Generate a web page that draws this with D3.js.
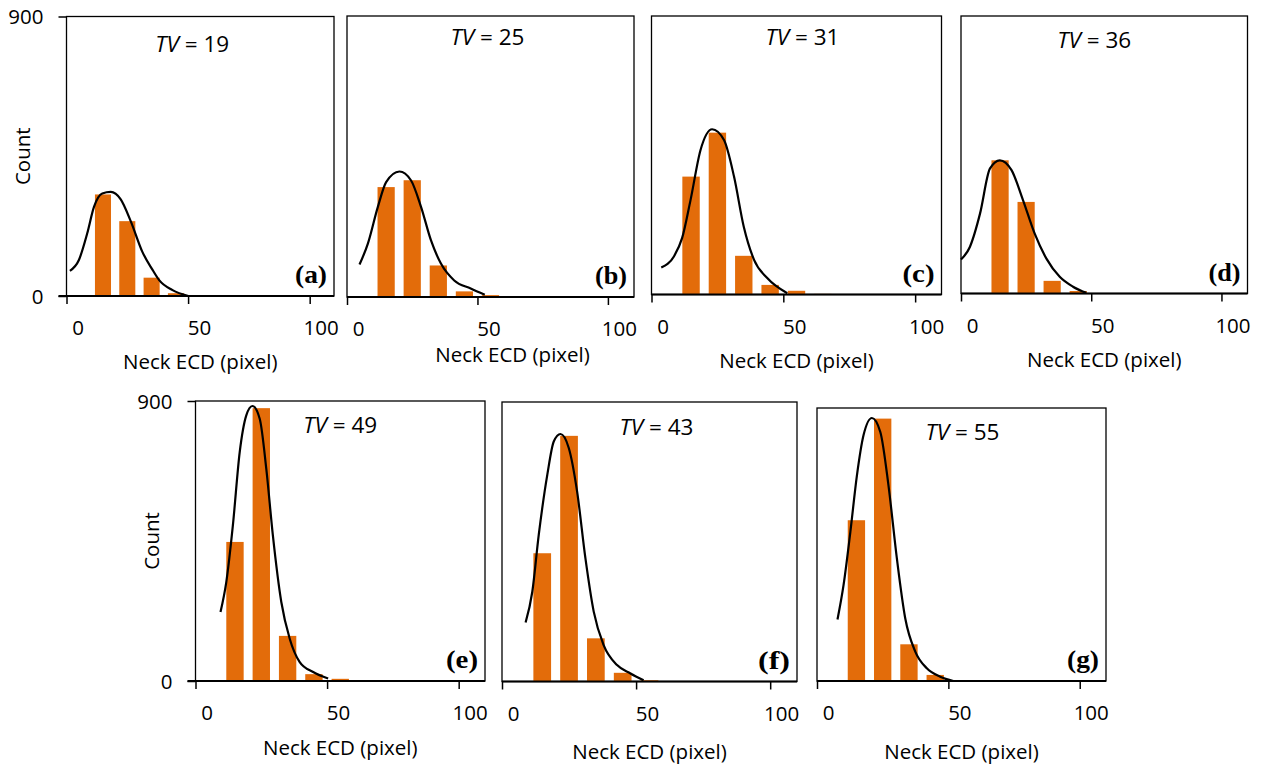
<!DOCTYPE html>
<html>
<head>
<meta charset="utf-8">
<script src="https://cdn.jsdelivr.net/npm/d3@7"></script>
<style>
  body { margin: 0; background: #fff; }
  svg text { font-family: "Open Sans", sans-serif; fill: #000; }
</style>
</head>
<body>
<div id="chart"></div>
<script>
// bins (bar centres) and axis ticks
const binCenters = [15, 25, 35, 45, 55, 65];
const xTicks = [0, 50, 100];
const yTicks = [0, 900];
const tvValues = [19, 25, 31, 36, 49, 43, 55];
const panelTags = ["(a)", "(b)", "(c)", "(d)", "(e)", "(f)", "(g)"];

// histogram counts, one per bin
const countsA = [327, 241, 59, 9];
const countsB = [352, 374, 101, 18, 6];
const countsC = [381, 523, 125, 31, 12, 2];
const countsD = [432, 297, 41, 8];
const countsE = [447, 877, 145, 22, 7];
const countsF = [413, 791, 139, 28, 4];
const countsG = [530, 865, 121, 20];

// fitted curve as [neck ECD, count]
const curveA = [[1.4, 81], [5.1, 116], [8.5, 201], [11.3, 287], [14.7, 330], [18.2, 335], [22.3, 311], [26.4, 241], [31.2, 142], [35.4, 84], [38.1, 51], [43.6, 19], [50.1, 0]];
const curveB = [[4.8, 104], [8.0, 171], [11.8, 288], [15.0, 368], [20.1, 402], [24.5, 374], [28.4, 288], [32.2, 181], [36.0, 107], [41.1, 53], [47.4, 27], [52.8, 7]];
const curveC = [[3.7, 87], [8.5, 123], [11.6, 182], [14.8, 305], [18.6, 467], [23.0, 534], [27.5, 499], [31.3, 381], [35.0, 219], [38.9, 112], [43.9, 53], [51.5, 4]];
const curveD = [[0, 110], [3.4, 151], [7.3, 259], [11.1, 405], [14.9, 432], [19.4, 400], [23.8, 303], [28.3, 194], [32.8, 113], [37.9, 54], [43.0, 22], [48.1, 2]];
const curveE = [[9.5, 222], [11.7, 318], [14.2, 500], [16.8, 736], [19.3, 854], [21.6, 884], [24.4, 843], [26.9, 682], [29.4, 468], [32.6, 254], [35.8, 136], [39.6, 61], [44.7, 29], [50.4, 8]];
const curveF = [[8.8, 190], [11.3, 289], [13.7, 472], [16.9, 666], [19.3, 773], [21.8, 797], [24.9, 752], [28.0, 612], [31.1, 397], [34.2, 225], [37.9, 117], [42.9, 53], [47.9, 26], [52.8, 4]];
const curveG = [[7.8, 203], [10.1, 316], [12.7, 492], [15.2, 678], [17.7, 810], [20.9, 867], [24.1, 821], [27.2, 645], [30.4, 404], [33.6, 206], [37.4, 97], [41.8, 42], [46.9, 14], [51.9, 0]];

const allCounts = [countsA, countsB, countsC, countsD, countsE, countsF, countsG];
const allCurves = [curveA, curveB, curveC, curveD, curveE, curveF, curveG];

// panel boxes on the page
const layout = [
  { x0: 66.5, x1: 334,    y0: 16.5, y1: 296,   yAxis: true,  tvDx: -8,  tvDy: 27, titleDx: 0,   titleDy: 66 },
  { x0: 347,  x1: 634,    y0: 16,   y1: 297,   yAxis: false, tvDx: -3,  tvDy: 21, titleDx: 22,  titleDy: 58 },
  { x0: 651.5,x1: 941.5,  y0: 16,   y1: 294.5, yAxis: false, tvDx: 6,   tvDy: 21, titleDx: 0,   titleDy: 66 },
  { x0: 961,  x1: 1247.5, y0: 16,   y1: 293.5, yAxis: false, tvDx: -10, tvDy: 24, titleDx: 0,   titleDy: 66 },
  { x0: 195.5,x1: 485,    y0: 401,  y1: 681,   yAxis: true,  tvDx: 0,   tvDy: 24, titleDx: 0,   titleDy: 67 },
  { x0: 502,  x1: 797,    y0: 402,  y1: 681.5, yAxis: false, tvDx: 7,   tvDy: 25, titleDx: 0,   titleDy: 70 },
  { x0: 817,  x1: 1106,   y0: 408,  y1: 681,   yAxis: false, tvDx: 1,   tvDy: 24, titleDx: 0,   titleDy: 71 }
];

const width = 1266, height = 769;
const orange = "#E36C0A";
const fs = "20.5px";

const svg = d3.select("#chart").append("svg")
  .attr("width", width)
  .attr("height", height);

layout.forEach((p, i) => {
  const x = d3.scaleLinear().domain([0, 110]).range([p.x0, p.x1]);
  const y = d3.scaleLinear().domain([0, 900]).range([p.y1, p.y0]);
  const g = svg.append("g");

  // plot frame
  g.append("rect")
    .attr("x", p.x0).attr("y", p.y0)
    .attr("width", p.x1 - p.x0).attr("height", p.y1 - p.y0)
    .attr("fill", "none").attr("stroke", "#000").attr("stroke-width", 1.3);

  // bars
  const counts = allCounts[i];
  g.selectAll(".bar")
    .data(counts)
    .enter()
    .append("rect")
    .attr("class", "bar")
    .attr("x", (d, j) => x(binCenters[j] - 3.3))
    .attr("width", (d, j) => x(binCenters[j] + 3.3) - x(binCenters[j] - 3.3))
    .attr("y", d => y(d))
    .attr("height", d => y(0) - y(d))
    .attr("fill", orange);

  // fitted curve
  const line = d3.line()
    .x(d => x(d[0]))
    .y(d => y(d[1]))
    .curve(d3.curveMonotoneX);
  g.append("path")
    .datum(allCurves[i])
    .attr("d", line)
    .attr("fill", "none")
    .attr("stroke", "#000")
    .attr("stroke-width", 2.2);

  // x axis
  const xAxis = g.append("g")
    .attr("transform", `translate(0,${p.y1})`)
    .call(d3.axisBottom(x).tickValues(xTicks).tickSize(8).tickFormat(d3.format("d")));
  xAxis.select(".domain").remove();
  xAxis.selectAll(".tick line").attr("stroke", "#000").attr("stroke-width", 1.5);
  xAxis.selectAll(".tick text")
    .attr("y", 32).attr("dy", "0.36em").attr("dx", 11)
    .style("font-size", fs).style("font-family", "'Open Sans', sans-serif");
  g.append("line")
    .attr("x1", p.yAxis ? p.x0 - 8 : p.x0).attr("x2", p.x1)
    .attr("y1", p.y1).attr("y2", p.y1)
    .attr("stroke", "#000").attr("stroke-width", 2);

  // y axis only on the first panel of each row
  if (p.yAxis) {
    const yAxis = g.append("g")
      .attr("transform", `translate(${p.x0},0)`)
      .call(d3.axisLeft(y).tickValues(yTicks).tickSize(8));
    yAxis.select(".domain").remove();
    yAxis.selectAll(".tick line").attr("stroke", "#000").attr("stroke-width", 1.5);
    yAxis.selectAll(".tick text")
      .attr("x", -23).attr("dy", "0.36em")
      .style("font-size", fs).style("font-family", "'Open Sans', sans-serif");

    g.append("text")
      .attr("transform", `translate(${p.x0 - 44},${(p.y0 + p.y1) / 2}) rotate(-90)`)
      .attr("text-anchor", "middle")
      .attr("dy", "0.36em")
      .style("font-size", fs)
      .text("Count");
  }

  // x title
  g.append("text")
    .attr("x", (p.x0 + p.x1) / 2 + p.titleDx)
    .attr("y", p.y1 + p.titleDy)
    .attr("dy", "0.36em")
    .attr("text-anchor", "middle")
    .style("font-size", fs)
    .text("Neck ECD (pixel)");

  // TV annotation
  const tv = g.append("text")
    .attr("x", (p.x0 + p.x1) / 2 + p.tvDx)
    .attr("y", p.y0 + p.tvDy)
    .attr("dy", "0.36em")
    .attr("text-anchor", "middle")
    .style("font-size", "22.5px");
  tv.append("tspan").style("font-style", "italic").text("TV");
  tv.append("tspan").text(" = " + tvValues[i]);

  // panel tag
  g.append("text")
    .attr("x", p.x1 - 7)
    .attr("y", p.y1 - 13)
    .attr("text-anchor", "end")
    .attr("textLength", 32)
    .attr("lengthAdjust", "spacingAndGlyphs")
    .style("font-family", "'Liberation Serif', 'Times New Roman', serif")
    .style("font-weight", "bold")
    .style("font-size", "25px")
    .text(panelTags[i]);
});
</script>
</body>
</html>
